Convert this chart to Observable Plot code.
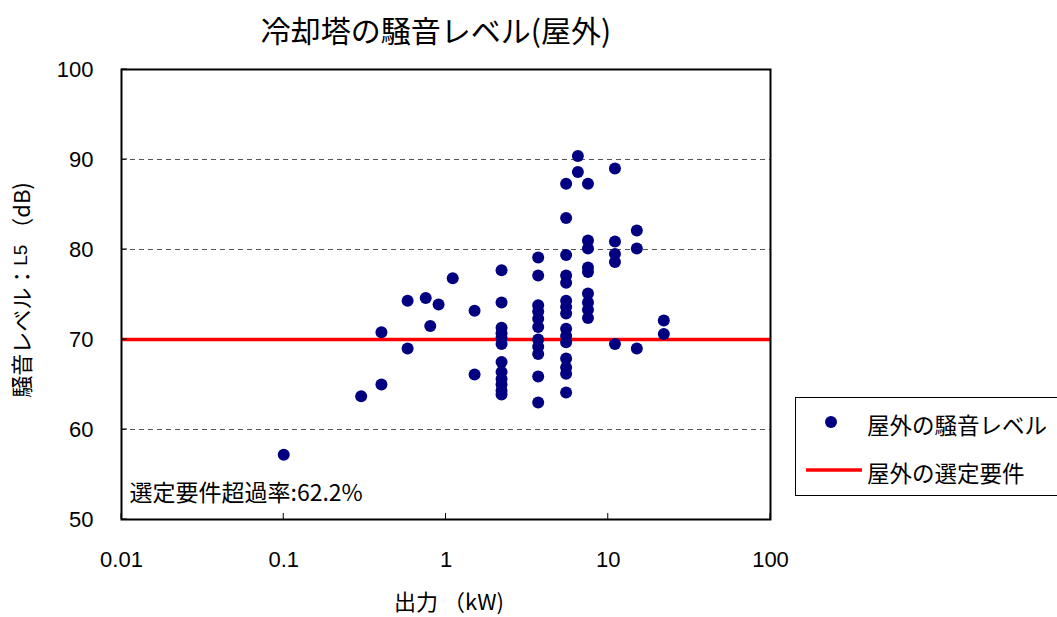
<!DOCTYPE html>
<html><head><meta charset="utf-8">
<script src="https://cdn.jsdelivr.net/npm/d3@7"></script>
<script src="https://cdn.jsdelivr.net/npm/@observablehq/plot@0.6"></script>
<style>body{margin:0;background:#fff;} #chart{position:relative;width:1057px;height:617px;}</style>
</head><body><div id="chart"></div>
<script>
// ---- data ----
const power = [
  0.1,
  0.3,
  0.4, 0.4,
  0.58, 0.58,
  0.75,
  0.8,
  0.9,
  1.1,
  1.5, 1.5,
  2.2, 2.2, 2.2, 2.2, 2.2, 2.2, 2.2, 2.2, 2.2, 2.2, 2.2, 2.2,
  3.7, 3.7, 3.7, 3.7, 3.7, 3.7, 3.7, 3.7, 3.7, 3.7, 3.7,
  5.5, 5.5, 5.5, 5.5, 5.5, 5.5, 5.5, 5.5, 5.5, 5.5, 5.5, 5.5, 5.5, 5.5, 5.5,
  6.5, 6.5,
  7.5, 7.5, 7.5, 7.5, 7.5, 7.5, 7.5, 7.5, 7.5,
  11, 11, 11, 11, 11,
  15, 15, 15,
  22, 22
];
const level = [
  57.2,
  63.7,
  65.0, 70.8,
  69.0, 74.3,
  74.6,
  71.5,
  73.9,
  76.8,
  73.2, 66.1,
  77.7, 74.1, 71.3, 70.7, 70.2, 69.5, 67.5, 66.4, 65.6, 65.0, 64.3, 63.9,
  79.1, 77.1, 73.8, 73.1, 72.3, 71.4, 70.0, 69.2, 68.4, 65.9, 63.0,
  87.3, 83.5, 79.4, 77.1, 76.3, 74.3, 73.6, 72.9, 71.2, 70.4, 69.7, 67.9, 66.9, 66.2, 64.1,
  90.4, 88.6,
  87.3, 81.0, 80.1, 78.0, 77.5, 75.1, 74.1, 73.3, 72.4,
  89.0, 80.9, 79.5, 78.6, 69.5,
  82.1, 80.1, 69.0,
  72.1, 70.6
];
const requirement = [70];
const gridLevels = [60, 80, 90];
const xTicks = [0.01, 0.1, 1, 10, 100];
const xTickLabels = ["0.01", "0.1", "1", "10", "100"];
const yTicks = [50, 60, 70, 80, 90, 100];
const titleText = "冷却塔の騒音レベル(屋外)";
const xLabel = "出力 （kW)";
const yLabelMain = "騒音レベル：";
const yLabelSub = "L5";
const yLabelUnit = " （dB)";
const noteText = "選定要件超過率:62.2%";
const legendDot = "屋外の騒音レベル";
const legendLine = "屋外の選定要件";

const points = power.map((p, i) => ({power: p, level: level[i]}));

const num = "'Liberation Sans', Arial, sans-serif";
const jp = "'Noto Sans CJK JP', 'Noto Sans', sans-serif";

const plot = Plot.plot({
  width: 1057, height: 617,
  marginLeft: 121, marginRight: 287, marginTop: 69, marginBottom: 98,
  style: {fontFamily: num, fontSize: "22px", background: "#fff", color: "#000"},
  x: {type: "log", domain: [0.01, 100], label: null},
  y: {domain: [50, 100], label: null},
  marks: [
    Plot.ruleY(gridLevels, {stroke: "#555", strokeDasharray: "5,4", strokeWidth: 1}),
    Plot.ruleY(requirement, {stroke: "#ff0000", strokeWidth: 3.5}),
    Plot.dot(points, {x: "power", y: "level", r: 6, fill: "#000080", stroke: "none"}),
    Plot.axisX(xTicks, {tickSize: 0, tickPadding: 32, label: null, tickFormat: d => xTickLabels[xTicks.indexOf(d)], fontSize: 22, fontFamily: num}),
    Plot.axisY(yTicks, {tickSize: 0, tickPadding: 28, label: null, fontSize: 22, fontFamily: num}),
    Plot.frame({stroke: "#000", strokeWidth: 2}),
    Plot.text([noteText], {frameAnchor: "bottom-left", lineAnchor: "middle", textAnchor: "start", dx: 8, dy: -26, fontSize: 23, fontFamily: jp, fill: "#000"}),
    Plot.text([titleText], {frameAnchor: "top", lineAnchor: "middle", dx: -10, dy: -37, fontSize: 30, fontFamily: jp, fill: "#000"}),
    Plot.text([xLabel], {frameAnchor: "bottom", lineAnchor: "middle", dx: 3, dy: 83, fontSize: 22, fontFamily: jp, fill: "#000"})
  ]
});

document.getElementById("chart").appendChild(plot);
const svg = d3.select(plot);
const xs = plot.scale("x"), ys = plot.scale("y");

// inward ticks
const tg = svg.append("g").attr("stroke", "#000").attr("stroke-width", 1);
yTicks.forEach(v => {
  const y = ys.apply(v);
  tg.append("line").attr("x1", 121).attr("x2", 127).attr("y1", y).attr("y2", y);
});
xTicks.forEach(v => {
  const x = xs.apply(v);
  tg.append("line").attr("x1", x).attr("x2", x).attr("y1", 519).attr("y2", 513);
});

// y label
const yl = svg.append("text")
  .attr("transform", "translate(20,290) rotate(-90)")
  .attr("text-anchor", "middle").attr("dominant-baseline", "central")
  .attr("font-family", jp).attr("font-size", 22).attr("fill", "#000");
yl.append("tspan").text(yLabelMain);
yl.append("tspan").attr("font-family", num).attr("font-size", 19).text(yLabelSub);
yl.append("tspan").text(yLabelUnit);

// legend
const lg = svg.append("g").attr("text-anchor", "start");
lg.append("rect").attr("x", 795.5).attr("y", 397.5).attr("width", 270).attr("height", 98)
  .attr("fill", "#fff").attr("stroke", "#000").attr("stroke-width", 1);
lg.append("circle").attr("cx", 831).attr("cy", 422).attr("r", 6).attr("fill", "#000080");
lg.append("text").attr("x", 867).attr("y", 424).attr("dominant-baseline", "central").attr("text-anchor", "start")
  .attr("font-family", jp).attr("font-size", 22.5).attr("fill", "#000").text(legendDot);
lg.append("line").attr("x1", 806).attr("x2", 862).attr("y1", 470).attr("y2", 470)
  .attr("stroke", "#ff0000").attr("stroke-width", 3.5);
lg.append("text").attr("x", 867).attr("y", 472).attr("dominant-baseline", "central").attr("text-anchor", "start")
  .attr("font-family", jp).attr("font-size", 22.5).attr("fill", "#000").text(legendLine);
</script>
</body></html>
